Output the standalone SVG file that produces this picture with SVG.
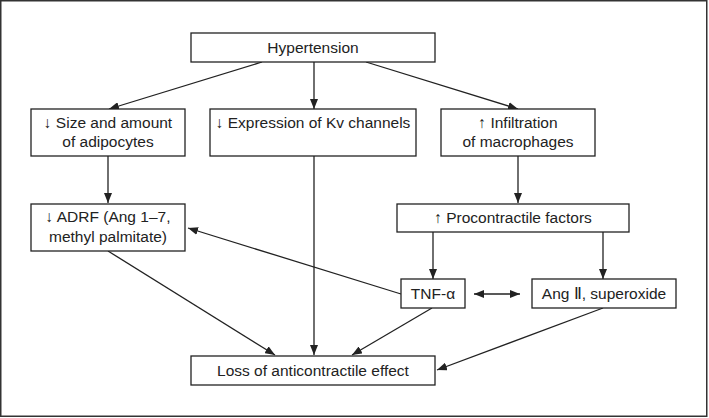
<svg xmlns="http://www.w3.org/2000/svg" width="709" height="418" viewBox="0 0 709 418">
<style>
.box{fill:#fff;stroke:#222;stroke-width:1.3}
.t{font-family:"Liberation Sans",Arial,sans-serif;font-size:15.5px;fill:#222;text-anchor:middle}
.c{fill:none;stroke:#222;stroke-width:1.3}
</style>
<defs>
<marker id="ah" viewBox="0 0 10 8" refX="10" refY="4" markerWidth="10" markerHeight="8" markerUnits="userSpaceOnUse" orient="auto-start-reverse">
<path d="M0,0 L10,4 L0,8 Z" fill="#222"/>
</marker>
</defs>
<rect x="0.75" y="0.75" width="706" height="415.5" fill="#fff" stroke="#333" stroke-width="1.5"/>
<g id="connectors">
<line class="c" x1="262" y1="62" x2="109" y2="109" marker-end="url(#ah)"/>
<line class="c" x1="314" y1="62" x2="314" y2="109" marker-end="url(#ah)"/>
<line class="c" x1="366" y1="62" x2="518" y2="109" marker-end="url(#ah)"/>
<line class="c" x1="108" y1="156" x2="108" y2="203" marker-end="url(#ah)"/>
<line class="c" x1="518" y1="156" x2="518" y2="203" marker-end="url(#ah)"/>
<line class="c" x1="314" y1="156" x2="314" y2="355" marker-end="url(#ah)"/>
<line class="c" x1="401" y1="294" x2="188" y2="228" marker-end="url(#ah)"/>
<line class="c" x1="108" y1="251" x2="275" y2="355" marker-end="url(#ah)"/>
<line class="c" x1="433" y1="232" x2="433" y2="279" marker-end="url(#ah)"/>
<line class="c" x1="603" y1="232" x2="603" y2="279" marker-end="url(#ah)"/>
<line class="c" x1="474" y1="294" x2="520" y2="294" marker-start="url(#ah)" marker-end="url(#ah)"/>
<line class="c" x1="432" y1="308" x2="352" y2="355" marker-end="url(#ah)"/>
<line class="c" x1="603" y1="308" x2="437" y2="370" marker-end="url(#ah)"/>
</g>
<g id="hypertension">
<rect class="box" x="191" y="33" width="244" height="29"/>
<text class="t" x="313" y="53">Hypertension</text>
</g>
<g id="size">
<rect class="box" x="31" y="109" width="154" height="47"/>
<text class="t" x="108" y="128">↓ Size and amount</text>
<text class="t" x="108" y="147">of adipocytes</text>
</g>
<g id="kv">
<rect class="box" x="210" y="109" width="206" height="47"/>
<text class="t" x="313" y="128">↓ Expression of Kv channels</text>
</g>
<g id="infiltration">
<rect class="box" x="441" y="109" width="154" height="47"/>
<text class="t" x="518" y="128">↑ Infiltration</text>
<text class="t" x="518" y="147">of macrophages</text>
</g>
<g id="adrf">
<rect class="box" x="31" y="204" width="154" height="47"/>
<text class="t" x="108" y="222">↓ ADRF (Ang 1–7,</text>
<text class="t" x="108" y="242">methyl palmitate)</text>
</g>
<g id="procontractile">
<rect class="box" x="397" y="204" width="232" height="28"/>
<text class="t" x="513" y="223">↑ Procontractile factors</text>
</g>
<g id="tnf">
<rect class="box" x="401" y="279" width="64" height="29"/>
<text class="t" x="433" y="299">TNF-α</text>
</g>
<g id="angii">
<rect class="box" x="532" y="279" width="144" height="29"/>
<text class="t" x="604" y="299">Ang Ⅱ, superoxide</text>
</g>
<g id="loss">
<rect class="box" x="191" y="356" width="244" height="29"/>
<text class="t" x="313" y="376">Loss of anticontractile effect</text>
</g>
</svg>
